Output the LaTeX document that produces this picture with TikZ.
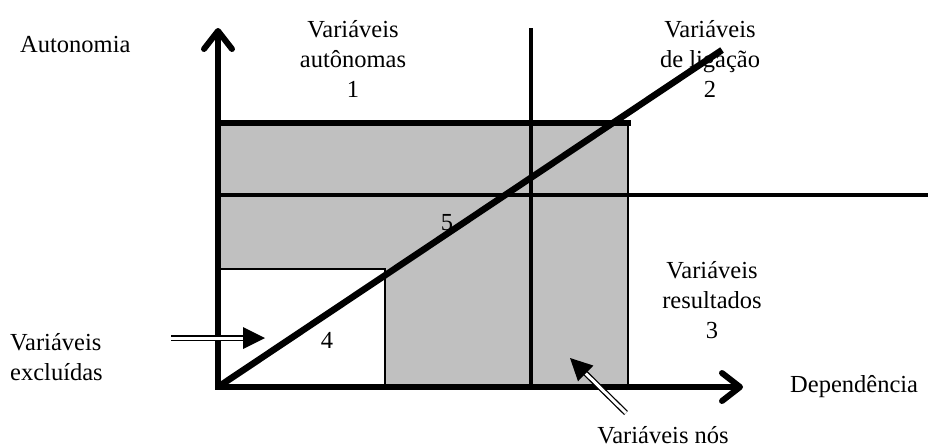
\documentclass[tikz,border=0pt]{standalone}
\usepackage{fontspec}
\setmainfont{Liberation Serif}
\usetikzlibrary{arrows.meta,calc}
\definecolor{boxgray}{HTML}{C0C0C0}
\tikzset{
  lbl/.style={inner sep=0pt, font=\fontsize{24.5}{30}\selectfont},
  axis/.style={line width=6pt, -{Straight Barb[length=18pt,width=28pt,round]}},
  dbl/.style={double, double distance=3pt, line width=1.3pt},
  tri/.style={fill=black},
}
\begin{document}
\begin{tikzpicture}[x=1pt,y=-1pt]
\useasboundingbox (0,0) rectangle (928,447);
% coordinates
\coordinate (O) at (218,387);
\coordinate (ytip) at (218,28);
\coordinate (xtip) at (743,387);
\coordinate (vtop) at (531,28);
\coordinate (vbot) at (531,387);
\coordinate (hl) at (218,195);
\coordinate (hr) at (928,195);
\coordinate (dend) at (722,50);
% boxes
\fill[boxgray] (218,123) rectangle (628,387);
\draw[line width=1.5pt, fill=white] (218,387) -- (218,269) -- (385,269) -- (385,387);
\draw[line width=2pt] (628,123) -- (628,387);
% region lines
\draw[line width=3.3pt] (vtop) -- (vbot);
\draw[line width=3.3pt] (hl) -- (hr);
\draw[line width=6pt] (218,123) -- (631,123);
% labels
\node[lbl, anchor=base west] (auto) at (20,52) {Autonomia};
\node[lbl, anchor=north, align=center] (r1) at (353,20) {Variáveis\\autônomas\\1};
\node[lbl, anchor=north, align=center] (r2) at (710,20) {Variáveis\\de ligação\\2};
\node[lbl, anchor=north, align=center] (r3) at (712,261) {Variáveis\\resultados\\3};
\node[lbl, anchor=north west, align=left] (r4) at (10,333) {Variáveis\\excluídas};
\node[lbl, anchor=base] (n4) at (327,348) {4};
\node[lbl, anchor=base] (n5) at (447,230) {5};
\node[lbl, anchor=base west] (dep) at (790,392) {Dependência};
\node[lbl, anchor=base] (nos) at (663,443) {Variáveis nós};
% axes
\draw[axis] (O) -- (ytip);
\draw[axis] ([xshift=-3pt]O) -- (xtip);
% diagonal
\draw[line width=6.5pt] (O) -- (dend);
% arrow to excluded
\coordinate (et) at (265,338);
\coordinate (eb) at (171,338);
\draw[dbl] (eb) -- ($(et)!20pt!(eb)$);
\fill[tri] ($(et)!22pt!(eb)!11pt!90:(et)$) -- (et) -- ($(et)!22pt!(eb)!11pt!-90:(et)$) -- cycle;
% arrow to nodes
\coordinate (nt) at (570,358);
\coordinate (nb) at (626,413);
\draw[dbl] (nb) -- ($(nt)!20pt!(nb)$);
\fill[tri] ($(nt)!22pt!(nb)!11pt!90:(nt)$) -- (nt) -- ($(nt)!22pt!(nb)!11pt!-90:(nt)$) -- cycle;
\end{tikzpicture}
\end{document}
